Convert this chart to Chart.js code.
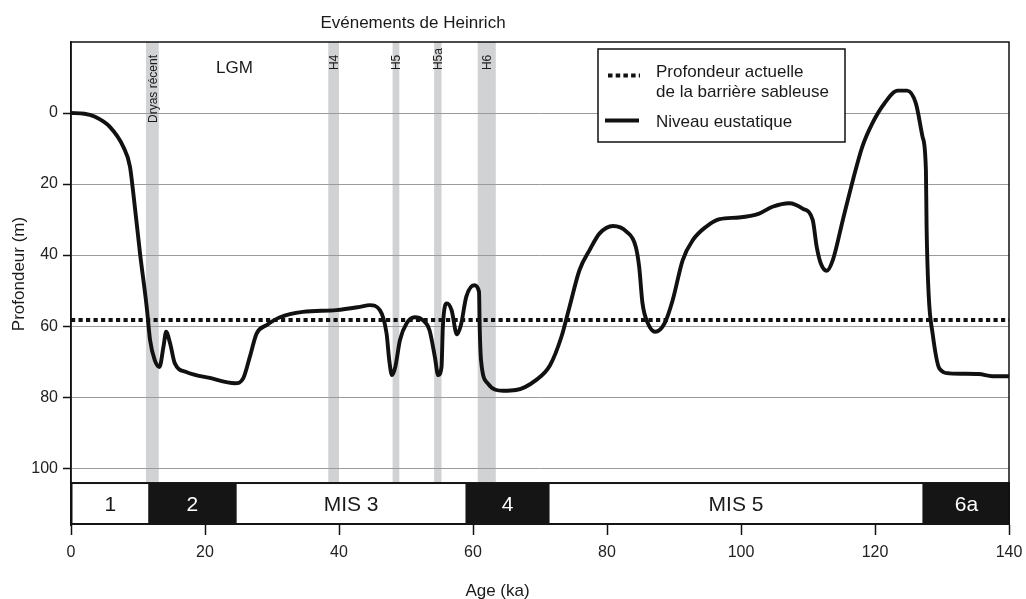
<!DOCTYPE html>
<html><head><meta charset="utf-8">
<script src="https://cdn.jsdelivr.net/npm/chart.js@4.4.1/dist/chart.umd.min.js"></script>
<style>html,body{margin:0;padding:0;background:#fff;}canvas{display:block;}</style>
</head><body>
<canvas id="c" width="1026" height="599"></canvas>
<script>
// ---- data ----
const ages = [0,2,3.5,5.8,7.8,8.8,9.3,10.3,11.3,11.8,12.5,13.2,13.8,14.2,14.8,15.5,17.2,20.7,24.5,25.7,26.7,27.7,29.2,31.2,34.6,39.6,43.1,44.6,46.1,47.1,47.5,47.9,48.4,49.1,50.1,51.3,52.5,53.5,54.3,54.8,55.3,55.5,56.1,56.8,57.6,58.2,59.0,60.2,60.9,61.0,61.2,62.2,64.5,66.4,69.4,71.5,73.2,74.4,75.9,77.4,78.9,80.9,82.9,84.3,84.8,85.3,86.1,87.2,88.6,89.8,91.3,92.8,94.8,96.8,99.7,102.7,104.7,107.2,109.2,110.7,111.3,111.9,112.8,113.7,115.2,116.7,118.1,119.6,121.4,123.4,124.8,126.1,127.1,127.6,127.7,128.0,128.6,129.6,131.1,135.5,137.5,140];
const depths = [0,0.2,1.0,3.9,9.5,15.1,22.6,39.5,54.6,63.9,69.6,71.5,65.8,61.6,64.9,70.5,72.9,74.6,76.1,74.7,68.6,62.1,59.7,57.5,56.0,55.5,54.6,54.1,55.5,62.1,69.6,73.8,71.5,63.9,59.2,57.5,58.3,61.1,68.6,73.8,71.5,60.2,53.6,55.5,62.3,59.7,51.7,48.5,50.3,60.2,69.6,76.1,78.2,78.0,75.2,71.0,63.0,54.6,44.2,38.6,33.9,31.8,33.4,37.7,43.3,53.6,59.2,61.6,59.2,52.7,41.4,35.8,32.0,29.9,29.4,28.3,26.4,25.4,26.9,30.1,37.7,42.3,44.4,41.4,30.1,18.9,9.5,2.9,-2.7,-6.3,-6.3,-2.7,6.7,16.1,32.0,50.8,62.1,71.9,73.3,73.5,74.1,74.1];
const sandBarrierDepth = 58.3;
const xTicks = [0,20,40,60,80,100,120,140];
const yTicks = [0,20,40,60,80,100];
const eventLabels = ['Dryas récent','H4','H5','H5a','H6'];
const eventStart = [11.2,38.4,48.0,54.2,60.7];
const eventEnd = [13.1,40.0,49.0,55.3,63.4];
const misLabels = ['1','2','MIS 3','4','MIS 5','6a'];
const misStart = [0,11.75,24.5,59.1,71.2,127.3];
const misEnd = [11.75,24.5,59.1,71.2,127.3,140];
const misDark = [false,true,false,true,false,true];
const legendLines = [['Profondeur actuelle','de la barrière sableuse'],['Niveau eustatique']];
const titleText = 'Evénements de Heinrich';
const lgmText = 'LGM';
const xTitle = 'Age (ka)';
const yTitle = 'Profondeur (m)';

// ---- drawing ----
const FONT = "'Liberation Sans', Arial, Helvetica, sans-serif";
const MIS_TOP = 103.9, MIS_BOTTOM = 116;

const decor = {
  id: 'decor',
  beforeDraw(chart) {
    const {ctx, chartArea: a, scales: {x, y}} = chart;
    ctx.save();
    ctx.fillStyle = '#fff';
    ctx.fillRect(0, 0, chart.width, chart.height);
    ctx.fillStyle = '#d1d2d4';
    const yb = y.getPixelForValue(MIS_TOP);
    eventStart.forEach((s, i) => {
      const x0 = x.getPixelForValue(s), x1 = x.getPixelForValue(eventEnd[i]);
      ctx.fillRect(x0, a.top, x1 - x0, yb - a.top);
    });
    ctx.restore();
  },
  afterDatasetsDraw(chart) {
    const {ctx, chartArea: a, scales: {x, y}} = chart;
    ctx.save();
    // MIS bar
    const top = y.getPixelForValue(MIS_TOP), bot = y.getPixelForValue(MIS_BOTTOM);
    ctx.fillStyle = '#151515';
    ctx.fillRect(a.left - 1, top, a.right - a.left + 2, bot - top);
    ctx.font = '21px ' + FONT;
    ctx.textAlign = 'center';
    ctx.textBaseline = 'alphabetic';
    misStart.forEach((s, i) => {
      const x0 = x.getPixelForValue(s), x1 = x.getPixelForValue(misEnd[i]);
      if (!misDark[i]) {
        ctx.fillStyle = '#fff';
        ctx.fillRect(x0 + 1.5, top + 2, x1 - x0 - 3, bot - top - 4);
      }
      ctx.fillStyle = misDark[i] ? '#fff' : '#1a1a1a';
      ctx.fillText(misLabels[i], (x0 + x1) / 2, (top + bot) / 2 + 7.5);
    });
    // frame
    ctx.strokeStyle = '#111';
    ctx.lineWidth = 1.5;
    ctx.beginPath();
    ctx.moveTo(a.left, a.bottom);
    ctx.lineTo(a.left, a.top);
    ctx.lineTo(a.right, a.top);
    ctx.lineTo(a.right, a.bottom);
    ctx.stroke();

    // event labels (rotated)
    ctx.fillStyle = '#1a1a1a';
    ctx.font = '12px ' + FONT;
    ctx.textAlign = 'left';
    eventLabels.forEach((t, i) => {
      const cx = (x.getPixelForValue(eventStart[i]) + x.getPixelForValue(eventEnd[i])) / 2;
      const yb = i === 0 ? y.getPixelForValue(2.8) : y.getPixelForValue(-12.1);
      ctx.save();
      ctx.translate(cx + 4.3, yb);
      ctx.rotate(-Math.PI / 2);
      ctx.fillText(t, 0, 0);
      ctx.restore();
    });
    // LGM
    ctx.font = '17px ' + FONT;
    ctx.textAlign = 'center';
    ctx.fillText(lgmText, 234.5, 72.5);
    // title
    ctx.fillText(titleText, 413, 27.5);
    // x title
    ctx.fillText(xTitle, 497.5, 596);
    // y title
    ctx.save();
    ctx.translate(24, 274);
    ctx.rotate(-Math.PI / 2);
    ctx.fillText(yTitle, 0, 0);
    ctx.restore();

    // legend
    ctx.fillStyle = '#fff';
    ctx.fillRect(598, 49, 247, 93);
    ctx.strokeStyle = '#111';
    ctx.lineWidth = 1.5;
    ctx.strokeRect(598, 49, 247, 93);
    ctx.lineWidth = 4;
    ctx.setLineDash([4.5, 3.2]);
    ctx.beginPath(); ctx.moveTo(608, 75.5); ctx.lineTo(640, 75.5); ctx.stroke();
    ctx.setLineDash([]);
    ctx.beginPath(); ctx.moveTo(605, 120.5); ctx.lineTo(639, 120.5); ctx.stroke();
    ctx.fillStyle = '#1a1a1a';
    ctx.font = '17px ' + FONT;
    ctx.textAlign = 'left';
    ctx.fillText(legendLines[0][0], 656, 76.5);
    ctx.fillText(legendLines[0][1], 656, 96.5);
    ctx.fillText(legendLines[1][0], 656, 127);
    ctx.restore();
  }
};

new Chart(document.getElementById('c'), {
  type: 'line',
  data: {
    datasets: [
      {
        label: legendLines[1][0],
        data: ages.map((a, i) => ({x: a, y: depths[i]})),
        borderColor: '#111',
        borderWidth: 3.9,
        pointRadius: 0,
        fill: false,
        cubicInterpolationMode: 'monotone'
      },
      {
        label: legendLines[0].join(' '),
        data: [{x: xTicks[0], y: sandBarrierDepth}, {x: xTicks[xTicks.length - 1], y: sandBarrierDepth}],
        borderColor: '#111',
        borderWidth: 4,
        borderDash: [4.2, 3.3],
        borderCapStyle: 'butt',
        pointRadius: 0,
        fill: false
      }
    ]
  },
  options: {
    responsive: false,
    animation: false,
    devicePixelRatio: 1,
    layout: {padding: {top: 42, right: 17, left: 0, bottom: 0}},
    plugins: {legend: {display: false}, tooltip: {enabled: false}, title: {display: false}},
    scales: {
      x: {
        type: 'linear',
        min: 0, max: 140,
        afterBuildTicks: s => { s.ticks = xTicks.map(v => ({value: v})); },
        afterFit: s => { s.height = 74; s.paddingLeft = 0; s.paddingRight = 0; },
        grid: {display: true, drawOnChartArea: false, drawTicks: true, tickLength: 10, tickColor: '#111', tickWidth: 1.5},
        border: {display: false},
        ticks: {font: {size: 16, family: FONT}, color: '#222', padding: 8, maxRotation: 0}
      },
      y: {
        type: 'linear',
        reverse: true,
        min: -20, max: MIS_BOTTOM,
        afterBuildTicks: s => { s.ticks = yTicks.map(v => ({value: v})); },
        afterFit: s => { s.width = 71; s.paddingTop = 0; s.paddingBottom = 0; },
        grid: {color: '#9b9b9b', lineWidth: 1, drawTicks: true, tickLength: 8, tickColor: '#111', tickWidth: 1.5},
        border: {display: true, color: '#111', width: 1.5},
        ticks: {font: {size: 16, family: FONT}, color: '#222', padding: 5}
      }
    }
  },
  plugins: [decor]
});
</script>
</body></html>
